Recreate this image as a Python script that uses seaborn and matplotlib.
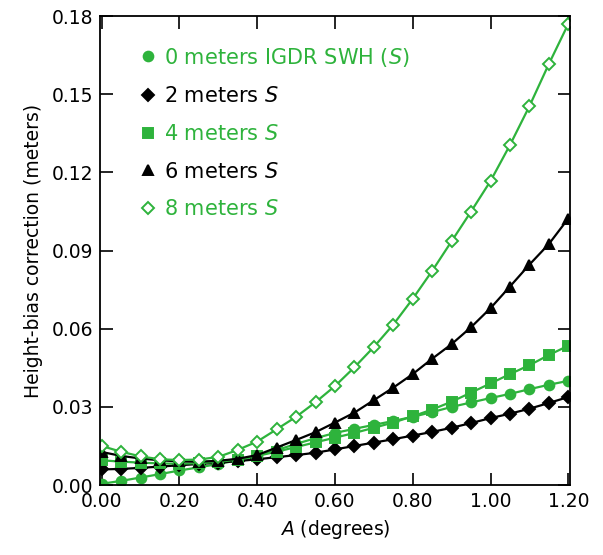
import numpy as np
import pandas as pd
import matplotlib
matplotlib.use("Agg")
import matplotlib.pyplot as plt
from matplotlib.lines import Line2D
import seaborn as sns

# A (degrees)
angle = [0.00, 0.05, 0.10, 0.15, 0.20, 0.25, 0.30, 0.35, 0.40, 0.45, 0.50, 0.55,
         0.60, 0.65, 0.70, 0.75, 0.80, 0.85, 0.90, 0.95, 1.00, 1.05, 1.10, 1.15, 1.20]

# height-bias correction (meters)
swh_0m = [0.0005, 0.0016, 0.0029, 0.0042, 0.0056, 0.0068, 0.0081, 0.0095, 0.0112, 0.0134,
          0.0158, 0.0180, 0.0200, 0.0216, 0.0231, 0.0246, 0.0262, 0.0280, 0.0300, 0.0317,
          0.0334, 0.0350, 0.0368, 0.0385, 0.0400]
swh_2m = [0.0060, 0.0062, 0.0066, 0.0071, 0.0076, 0.0081, 0.0086, 0.0092, 0.0099, 0.0107,
          0.0115, 0.0124, 0.0137, 0.0150, 0.0163, 0.0176, 0.0190, 0.0204, 0.0220, 0.0238,
          0.0257, 0.0274, 0.0293, 0.0315, 0.0338]
swh_4m = [0.0095, 0.0090, 0.0086, 0.0083, 0.0082, 0.0084, 0.0089, 0.0098, 0.0112, 0.0128,
          0.0146, 0.0164, 0.0182, 0.0200, 0.0220, 0.0240, 0.0264, 0.0290, 0.0320, 0.0355,
          0.0390, 0.0426, 0.0460, 0.0499, 0.0535]
swh_6m = [0.0127, 0.0112, 0.0102, 0.0095, 0.0091, 0.0090, 0.0093, 0.0101, 0.0115, 0.0144,
          0.0173, 0.0203, 0.0240, 0.0278, 0.0326, 0.0374, 0.0426, 0.0485, 0.0541, 0.0606,
          0.0679, 0.0762, 0.0846, 0.0925, 0.1023]
swh_8m = [0.0150, 0.0128, 0.0110, 0.0099, 0.0096, 0.0098, 0.0108, 0.0135, 0.0167, 0.0214,
          0.0262, 0.0318, 0.0380, 0.0452, 0.0530, 0.0616, 0.0715, 0.0822, 0.0936, 0.1050,
          0.1167, 0.1305, 0.1454, 0.1616, 0.1770]

labels = ["0 meters IGDR SWH ($S$)", "2 meters $S$", "4 meters $S$",
          "6 meters $S$", "8 meters $S$"]

green = "#2eb33c"
black = "#000000"

sns.set_style("ticks")
plt.rcParams["font.family"] = ["DejaVu Sans"]
plt.rcParams["mathtext.fontset"] = "custom"
plt.rcParams["mathtext.it"] = "DejaVu Sans:italic"
plt.rcParams["mathtext.rm"] = "DejaVu Sans"
plt.rcParams["text.color"] = "black"
plt.rcParams["axes.labelcolor"] = "black"
plt.rcParams["xtick.color"] = "black"
plt.rcParams["ytick.color"] = "black"
plt.rcParams["axes.edgecolor"] = "black"

fig = plt.figure(figsize=(6.03, 5.55), dpi=100)
ax = fig.add_axes([0.166, 0.126, 0.779, 0.845])

series = [
    (swh_0m, green, "o", green, 7),
    (swh_2m, black, "D", black, 6.5),
    (swh_4m, green, "s", green, 6.5),
    (swh_6m, black, "^", black, 7.5),
    (swh_8m, green, "D", "white", 6.5),
]

for vals, col, mk, fc, ms in series:
    df = pd.DataFrame({"A": angle, "corr": vals})
    sns.lineplot(data=df, x="A", y="corr", ax=ax, color=col, lw=1.6,
                 marker=mk, markersize=ms, markerfacecolor=fc,
                 markeredgecolor=col, markeredgewidth=1.4)

ax.set_xlim(-0.004, 1.204)
ax.set_ylim(0, 0.18)
ax.set_xticks(np.arange(0, 1.21, 0.2))
ax.set_yticks(np.arange(0, 0.181, 0.03))
ax.xaxis.set_major_formatter(matplotlib.ticker.FormatStrFormatter("%.2f"))
ax.yaxis.set_major_formatter(matplotlib.ticker.FormatStrFormatter("%.2f"))
ax.tick_params(direction="in", length=9, width=1.2, labelsize=13.5,
               top=True, right=True, pad=5)
for sp in ax.spines.values():
    sp.set_linewidth(1.3)

ax.set_xlabel("$A$ (degrees)", fontsize=13.5, labelpad=5)
ax.set_ylabel("Height-bias correction (meters)", fontsize=13.5, labelpad=6)

# legend: markers only, text coloured like the series
handles = [Line2D([], [], ls="none", marker=mk, markersize=ms, color=col,
                  markerfacecolor=fc, markeredgecolor=col, markeredgewidth=1.4)
           for vals, col, mk, fc, ms in series]
leg = ax.legend(handles, labels, loc="upper left", bbox_to_anchor=(0.07, 0.955),
                frameon=False, fontsize=15, handlelength=0.6, handletextpad=0.5,
                labelspacing=0.85, borderaxespad=0)
for txt, (vals, col, mk, fc, ms) in zip(leg.get_texts(), series):
    txt.set_color(col)

fig.savefig("out.png", dpi=100)
